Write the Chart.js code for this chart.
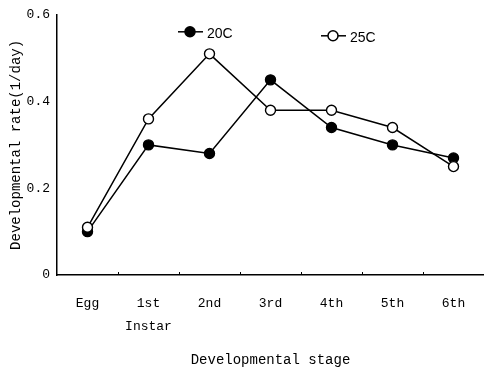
<!DOCTYPE html>
<html>
<head>
<meta charset="utf-8">
<script src="https://cdn.jsdelivr.net/npm/chart.js@4.4.1/dist/chart.umd.min.js"></script>
<style>
  html, body { margin: 0; padding: 0; background: #fff; }
  canvas { display: block; }
</style>
</head>
<body>
<canvas id="grafico" width="484" height="372"></canvas>
<script>
// dados
const stages = ['Egg', ['1st', 'Instar'], '2nd', '3rd', '4th', '5th', '6th'];
const rate20C = [0.10, 0.30, 0.28, 0.45, 0.34, 0.30, 0.27];
const rate25C = [0.11, 0.36, 0.51, 0.38, 0.38, 0.34, 0.25];
const yTicks = [0, 0.2, 0.4, 0.6];
const seriesNames = ['20C', '25C'];

const mono = "'Liberation Mono', 'DejaVu Sans Mono', monospace";

// legenda desenhada dentro da área do gráfico: -●- 20C   -○- 25C
// e pequenos traços para cima no eixo x, entre as categorias
const legendaInterna = {
    id: 'legendaInterna',
    afterDraw(chart) {
        const ctx = chart.ctx;
        const area = chart.chartArea;
        const xs = chart.scales.x;
        ctx.save();
        ctx.strokeStyle = '#000';
        ctx.lineWidth = 1;
        for (let i = 1; i < stages.length; i++) {
            const px = Math.round((xs.getPixelForValue(i - 1) + xs.getPixelForValue(i)) / 2) + 0.5;
            ctx.beginPath();
            ctx.moveTo(px, area.bottom);
            ctx.lineTo(px, area.bottom - 3);
            ctx.stroke();
        }
        const items = [
            { dx: 133, dy: 17, ds: chart.data.datasets[0] },
            { dx: 276, dy: 21, ds: chart.data.datasets[1] }
        ];
        items.forEach(it => {
            const cx = area.left + it.dx;
            const cy = area.top + it.dy;
            ctx.strokeStyle = '#000';
            ctx.lineWidth = 1.5;
            ctx.beginPath();
            ctx.moveTo(cx - 12, cy);
            ctx.lineTo(cx + 13, cy);
            ctx.stroke();
            ctx.beginPath();
            ctx.arc(cx, cy, 5, 0, Math.PI * 2);
            ctx.fillStyle = it.ds.pointBackgroundColor;
            ctx.fill();
            ctx.stroke();
            ctx.fillStyle = '#000';
            ctx.font = "14px 'Liberation Sans', Arial, sans-serif";
            ctx.textBaseline = 'middle';
            ctx.fillText(it.ds.label, cx + 17, cy + 2);
        });
        ctx.restore();
    }
};

const ctx = document.getElementById('grafico').getContext('2d');
const chart = new Chart(ctx, {
    type: 'line',
    data: {
        labels: stages,
        datasets: [
            {
                label: seriesNames[0],
                data: rate20C,
                borderColor: '#000',
                borderWidth: 1.5,
                pointRadius: 5,
                pointBorderWidth: 1.4,
                pointBackgroundColor: '#000',
                pointBorderColor: '#000',
                tension: 0,
                order: 2
            },
            {
                label: seriesNames[1],
                data: rate25C,
                borderColor: '#000',
                borderWidth: 1.5,
                pointRadius: 5,
                pointBorderWidth: 1.4,
                pointBackgroundColor: '#fff',
                pointBorderColor: '#000',
                tension: 0,
                order: 1
            }
        ]
    },
    options: {
        responsive: false,
        animation: false,
        layout: { autoPadding: false, padding: { top: 12, right: 0, left: 0, bottom: 0 } },
        plugins: {
            legend: { display: false },
            tooltip: { enabled: false }
        },
        scales: {
            x: {
                type: 'category',
                offset: true,
                afterFit: (scale) => { scale.height = 97; },
                grid: { display: true, drawOnChartArea: false, drawTicks: false, offset: true },
                border: { display: true, color: '#000', width: 1.5 },
                ticks: {
                    color: '#000',
                    padding: 17,
                    autoSkip: false,
                    maxRotation: 0,
                    font: { family: mono, size: 13, lineHeight: 1.75 }
                },
                title: {
                    display: true,
                    text: 'Developmental stage',
                    color: '#000',
                    font: { family: mono, size: 14 },
                    padding: { top: 0, bottom: 3 }
                }
            },
            y: {
                min: 0,
                max: 0.6,
                afterFit: (scale) => { scale.width = 57; },
                afterBuildTicks: (scale) => { scale.ticks = yTicks.map(v => ({ value: v })); },
                grid: { display: false, drawTicks: false },
                border: { display: true, color: '#000', width: 1.5 },
                ticks: {
                    color: '#000',
                    padding: 7,
                    font: { family: mono, size: 13 },
                    callback: (v) => String(Math.round(v * 10) / 10)
                },
                title: {
                    display: true,
                    text: 'Developmental rate(1/day)',
                    color: '#000',
                    font: { family: mono, size: 14 },
                    padding: { top: 8, bottom: 0 }
                }
            }
        }
    },
    plugins: [legendaInterna]
});
</script>
</body>
</html>
